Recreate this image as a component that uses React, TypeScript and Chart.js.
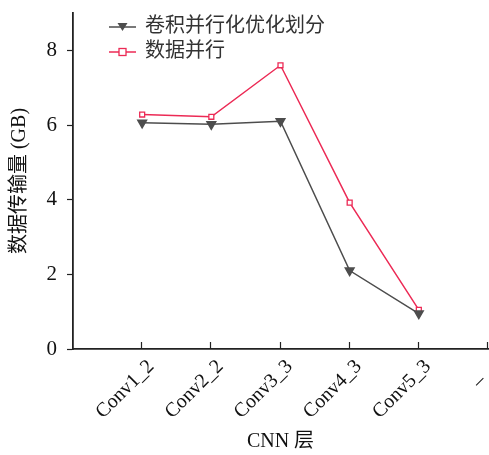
import React, { useEffect, useRef } from "react";
import { Chart, registerables } from "chart.js";
Chart.register(...registerables);

const categories = ["", "Conv1_2", "Conv2_2", "Conv3_3", "Conv4_3", "Conv5_3", "–"];
const convSeries = [null, 6.06, 6.02, 6.1, 2.1, 0.95, null];
const dataSeries = [null, 6.28, 6.22, 7.6, 3.92, 1.05, null];
const seriesNames = ["卷积并行化优化划分", "数据并行"];
const yTicks = [0, 2, 4, 6, 8];

const FONT = "'Liberation Serif', 'Noto Sans CJK SC', serif";

const innerTicks = {
  id: "innerTicks",
  afterDraw(chart: any) {
    const { ctx, scales } = chart;
    const x = scales.x;
    const y0 = scales.y.bottom;
    ctx.save();
    ctx.strokeStyle = "#222";
    ctx.lineWidth = 1.2;
    for (let i = 1; i < categories.length; i++) {
      const px = Math.round(x.getPixelForTick(i)) - 0.5;
      ctx.beginPath();
      ctx.moveTo(px, y0);
      ctx.lineTo(px, y0 - 7);
      ctx.stroke();
    }
    ctx.restore();
  },
};

const lineLegend = {
  id: "lineLegend",
  afterDraw(chart: any) {
    const { ctx, chartArea } = chart;
    ctx.save();
    chart.data.datasets.forEach((ds: any, i: number) => {
      const yy = chartArea.top + 14 + i * 25;
      const x0 = chartArea.left + 36;
      const x1 = x0 + 27;
      ctx.strokeStyle = ds.borderColor;
      ctx.lineWidth = 1.5;
      ctx.beginPath();
      ctx.moveTo(x0, yy);
      ctx.lineTo(x1, yy);
      ctx.stroke();
      const cx = (x0 + x1) / 2;
      if (ds.pointStyle === "triangle") {
        ctx.fillStyle = ds.pointBackgroundColor;
        ctx.beginPath();
        ctx.moveTo(cx - 5, yy - 4);
        ctx.lineTo(cx + 5, yy - 4);
        ctx.lineTo(cx, yy + 4);
        ctx.closePath();
        ctx.fill();
      } else {
        ctx.fillStyle = "#fff";
        ctx.lineWidth = 1.3;
        ctx.fillRect(cx - 3.5, yy - 3.5, 7, 7);
        ctx.strokeRect(cx - 3.5, yy - 3.5, 7, 7);
      }
      ctx.fillStyle = "#333";
      ctx.font = `20px ${FONT}`;
      ctx.textBaseline = "middle";
      ctx.textAlign = "left";
      ctx.fillText(ds.label, x1 + 9, yy);
    });
    ctx.restore();
  },
};

const radius = (r: number) => (c: any) => (c.raw == null ? 0 : r);

export default function App() {
  const ref = useRef<HTMLCanvasElement>(null);
  useEffect(() => {
    const chart = new Chart(ref.current!, {
      type: "line",
      data: {
        labels: categories,
        datasets: [
          {
            label: seriesNames[0],
            data: convSeries,
            borderColor: "#4d4d4d",
            backgroundColor: "#4d4d4d",
            pointBackgroundColor: "#4d4d4d",
            pointBorderColor: "#4d4d4d",
            pointStyle: "triangle",
            rotation: 180,
            pointRadius: radius(5),
            borderWidth: 1.5,
            tension: 0,
          },
          {
            label: seriesNames[1],
            data: dataSeries,
            borderColor: "#ec2a55",
            backgroundColor: "#ffffff",
            pointBackgroundColor: "#ffffff",
            pointBorderColor: "#ec2a55",
            pointStyle: "rect",
            pointRadius: radius(3.5),
            pointBorderWidth: 1.3,
            borderWidth: 1.5,
            tension: 0,
          },
        ],
      } as any,
      options: {
        animation: false,
        responsive: false,
        layout: { padding: { top: 13, right: 1, left: 0, bottom: 0 } },
        plugins: { legend: { display: false }, tooltip: { enabled: false } },
        scales: {
          x: {
            offset: false,
            afterFit: (s: any) => {
              s.height = 106;
              s.paddingLeft = 0;
              s.paddingRight = 0;
              s.paddingTop = 0;
              s.paddingBottom = 0;
            },
            grid: { display: true, drawOnChartArea: false, drawTicks: false },
            border: { display: true, color: "#222", width: 1.8 },
            ticks: {
              color: "#111",
              font: { family: FONT, size: 20 },
              minRotation: 45,
              maxRotation: 45,
              padding: 6,
              labelOffset: 9,
              autoSkip: false,
              callback: (_v: any, i: number) =>
                i === categories.length - 1 ? categories[i] + "    " : categories[i],
            },
            title: {
              display: true,
              text: "CNN 层",
              color: "#111",
              font: { family: FONT, size: 20 },
              padding: { top: 0, bottom: 1 },
            },
          },
          y: {
            min: 0,
            max: 9,
            afterFit: (s: any) => {
              s.width = 73;
              s.paddingTop = 0;
              s.paddingBottom = 0;
              s.paddingLeft = 0;
              s.paddingRight = 0;
            },
            afterBuildTicks: (s: any) => {
              s.ticks = yTicks.map((v) => ({ value: v }));
            },
            grid: { display: true, drawOnChartArea: false, drawTicks: true, tickLength: 6, tickColor: "#222", tickWidth: 1.2 },
            border: { display: true, color: "#222", width: 1.8 },
            ticks: {
              color: "#111",
              font: { family: FONT, size: 21 },
              padding: 10,
            },
            title: {
              display: true,
              text: "数据传输量 (GB)",
              color: "#111",
              font: { family: FONT, size: 20 },
              padding: { top: 8, bottom: 0 },
            },
          },
        },
      },
      plugins: [innerTicks, lineLegend],
    });
    return () => chart.destroy();
  }, []);
  return (
    <div style={{ position: "fixed", left: 0, top: 0, width: 489, height: 455, background: "#fff" }}>
      <canvas ref={ref} width={489} height={455} style={{ width: 489, height: 455 }} />
    </div>
  );
}
